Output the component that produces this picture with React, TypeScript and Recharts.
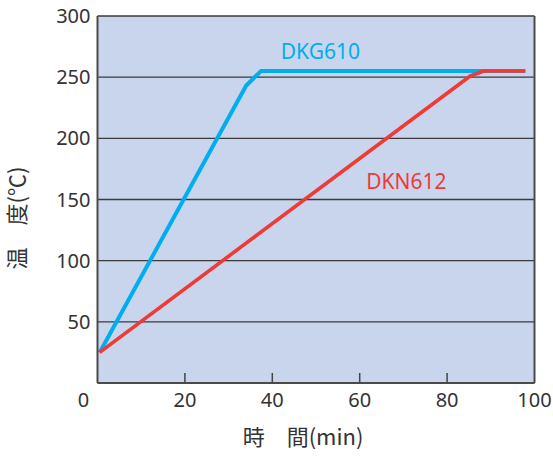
import { CartesianGrid, Line, LineChart, ReferenceDot, ReferenceLine, XAxis, YAxis } from "recharts";

const FONT = "'Noto Sans', 'Noto Sans CJK JP', sans-serif";
const CJK = "'Noto Sans CJK JP', sans-serif";

const timeTicks = [0, 20, 40, 60, 80, 100];
const tempTicks = [0, 50, 100, 150, 200, 250, 300];

const dkg610Time = [0.5, 34, 37.4, 97.9];
const dkg610Temp = [25, 243, 255, 255];
const dkn612Time = [0.5, 85.3, 88.4, 97.9];
const dkn612Temp = [25, 251, 255, 255];

const dkg610 = dkg610Time.map((t, i) => ({ t, temp: dkg610Temp[i] }));
const dkn612 = dkn612Time.map((t, i) => ({ t, temp: dkn612Temp[i] }));

const BLUE = "#00aeef";
const RED = "#ef3a36";
const TEXT = "#333333";

function TimeTick(props: any) {
  const { x, y, payload } = props;
  const v = payload.value;
  const inner = v > 0 && v < 100;
  return (
    <g>
      {inner && <line x1={x} x2={x} y1={y - 10} y2={y} stroke="#444" strokeWidth={1.5} />}
      <text x={v === 0 ? x - 14 : x} y={y + 24} textAnchor="middle" fontSize={20} fill={TEXT} fontFamily={FONT}>
        {v}
      </text>
    </g>
  );
}

function XTitle() {
  return (
    <text x={303} y={445} textAnchor="middle" fontSize={22} fill={TEXT} fontFamily={CJK}>
      時　間(min)
    </text>
  );
}

function YTitle() {
  return (
    <text
      x={15}
      y={218}
      transform="rotate(-90 15 218)"
      textAnchor="middle"
      dominantBaseline="central"
      fontSize={22}
      fill={TEXT}
      fontFamily={CJK}
    >
      温　度(℃)
    </text>
  );
}

export default function App() {
  return (
    <div style={{ position: "absolute", left: 0, top: 0, width: 553, height: 459, background: "#fff" }}>
      <LineChart width={553} height={459} margin={{ top: 16, right: 18.5, bottom: 46, left: 37.5 }}>
        <CartesianGrid vertical={false} fill="#c8d5ec" stroke="#3a3a3a" strokeWidth={1.3} />
        <XAxis
          type="number"
          dataKey="t"
          domain={[0, 100]}
          ticks={timeTicks}
          height={30}
          tickSize={0}
          tickMargin={0}
          tickLine={false}
          axisLine={{ stroke: "#4a4a4a", strokeWidth: 2 }}
          tick={<TimeTick />}
          label={<XTitle />}
        />
        <YAxis
          type="number"
          domain={[0, 300]}
          ticks={tempTicks}
          width={60}
          tickSize={0}
          tickMargin={7}
          tickLine={false}
          axisLine={{ stroke: "#4a4a4a", strokeWidth: 2 }}
          tickFormatter={(v) => (v === 0 ? "" : String(v))}
          tick={{ fontSize: 20, fill: TEXT, fontFamily: FONT }}
          label={<YTitle />}
        />
        <ReferenceLine x={100} stroke="#4a4a4a" strokeWidth={2} />
        <Line
          data={dkg610}
          dataKey="temp"
          type="linear"
          stroke={BLUE}
          strokeWidth={4}
          dot={false}
          strokeLinejoin="round"
          isAnimationActive={false}
        />
        <Line
          data={dkn612}
          dataKey="temp"
          type="linear"
          stroke={RED}
          strokeWidth={3.6}
          dot={false}
          strokeLinejoin="round"
          isAnimationActive={false}
        />
        <ReferenceDot
          x={51}
          y={271}
          r={0}
          label={{ value: "DKG610", position: "center", fill: BLUE, fontSize: 21, fontFamily: FONT }}
        />
        <ReferenceDot
          x={70.7}
          y={164.5}
          r={0}
          label={{ value: "DKN612", position: "center", fill: RED, fontSize: 21, fontFamily: FONT }}
        />
      </LineChart>
    </div>
  );
}
